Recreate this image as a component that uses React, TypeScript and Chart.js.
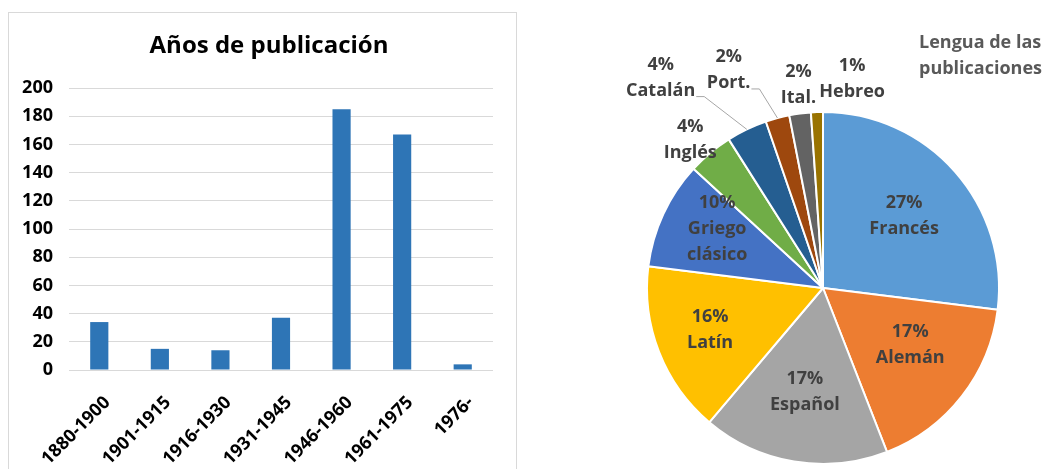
import React, { useEffect, useRef } from "react";
import { Chart, registerables } from "chart.js";

Chart.register(...registerables);

// ---------- Data ----------
const periods = ["1880-1900", "1901-1915", "1916-1930", "1931-1945", "1946-1960", "1961-1975", "1976-"];
const publications = [34, 15, 14, 37, 185, 167, 4];
const yMin = 0;
const yMax = 200;
const yStep = 20;
const barTitle = "Años de publicación";

const languages = ["Francés", "Alemán", "Español", "Latín", "Griego clásico", "Inglés", "Catalán", "Port.", "Ital.", "Hebreo"];
const languageCounts = [123, 78, 78, 72, 45, 19, 17, 10, 9, 5];
const languageColors = ["#5B9BD5", "#ED7D31", "#A5A5A5", "#FFC000", "#4472C4", "#70AD47", "#255E91", "#9E480E", "#636363", "#997300"];

// ---------- Label placement (polar: radius factor, angle shift in degrees) ----------
const labelPlacement = [
  { f: 0.615, shift: 0, leader: false },
  { f: 0.59, shift: -5, leader: false },
  { f: 0.6, shift: 0.4, leader: false },
  { f: 0.685, shift: 0.8, leader: false },
  { f: 0.69, shift: 4.5, leader: false },
  { f: 1.13, shift: -2, leader: false },
  { f: 1.51, shift: -12, leader: true },
  { f: 1.35, shift: -8.4, leader: true },
  { f: 1.16, shift: 0.6, leader: false },
  { f: 1.2, shift: 9.9, leader: false },
];

const FONT = "'Open Sans', 'Noto Sans', sans-serif";

// Title drawn centred on the chart card (Excel centres it on the whole card)
const cardTitlePlugin = {
  id: "cardTitle",
  afterDraw(chart: any) {
    const ctx = chart.ctx;
    ctx.save();
    ctx.font = `bold 24px ${FONT}`;
    ctx.fillStyle = "#000000";
    ctx.textAlign = "center";
    ctx.textBaseline = "middle";
    ctx.fillText(barTitle, chart.width / 2 + 7, 33);
    ctx.restore();
  },
};

const pieLabelsPlugin = {
  id: "pieLabels",
  afterDatasetsDraw(chart: any) {
    const ctx = chart.ctx;
    const meta = chart.getDatasetMeta(0);
    const data = chart.data.datasets[0].data as number[];
    const total = data.reduce((a, b) => a + b, 0);
    ctx.save();
    ctx.font = `bold 18px ${FONT}`;
    ctx.fillStyle = "#404040";
    ctx.textAlign = "center";
    ctx.textBaseline = "middle";
    const lineGap = 26;
    meta.data.forEach((arc: any, i: number) => {
      const p = labelPlacement[i];
      const mid = (arc.startAngle + arc.endAngle) / 2;
      const a = mid + (p.shift * Math.PI) / 180;
      const r = arc.outerRadius;
      const cx = arc.x + Math.cos(a) * r * p.f;
      const cy = arc.y + Math.sin(a) * r * p.f;
      const lines = [Math.round((data[i] / total) * 100) + "%", ...String(chart.data.labels[i]).split(" ")];
      const y0 = cy - ((lines.length - 1) * lineGap) / 2;
      lines.forEach((t: string, k: number) => {
        ctx.fillText(t, cx, y0 + k * lineGap);
      });
      if (p.leader) {
        const name = lines[lines.length - 1];
        const w = ctx.measureText(name).width;
        const sx = cx + w / 2 + 1;
        const sy = y0 + (lines.length - 1) * lineGap + 6;
        const ex = arc.x + Math.cos(mid) * r;
        const ey = arc.y + Math.sin(mid) * r;
        ctx.strokeStyle = "#A6A6A6";
        ctx.lineWidth = 1;
        ctx.beginPath();
        ctx.moveTo(sx, sy);
        ctx.lineTo(sx + 8, sy);
        ctx.lineTo(ex, ey);
        ctx.stroke();
      }
    });
    ctx.restore();
  },
};

export default function App() {
  const barRef = useRef<HTMLCanvasElement>(null);
  const pieRef = useRef<HTMLCanvasElement>(null);

  useEffect(() => {
    const bar = new Chart(barRef.current as HTMLCanvasElement, {
      type: "bar",
      data: {
        labels: periods,
        datasets: [
          {
            data: publications,
            backgroundColor: "#2E75B6",
            barPercentage: 0.3,
            categoryPercentage: 1,
          },
        ],
      },
      options: {
        animation: false,
        responsive: false,
        maintainAspectRatio: false,
        layout: { padding: { left: 0, right: 22, top: 75, bottom: 0 } },
        plugins: {
          legend: { display: false },
          tooltip: { enabled: false },
          title: { display: false },
        },
        scales: {
          x: {
            grid: { display: false },
            border: { display: false },
            ticks: {
              color: "#000000",
              font: { family: FONT, size: 18, weight: "bold" },
              maxRotation: 45,
              minRotation: 45,
              autoSkip: false,
              padding: 14,
              labelOffset: 8,
            },
            afterFit: (s: any) => {
              s.height = 99;
            },
          },
          y: {
            min: yMin,
            max: yMax,
            ticks: {
              stepSize: yStep,
              color: "#000000",
              font: { family: FONT, size: 18, weight: "bold" },
              padding: 16,
            },
            grid: { color: "#D9D9D9", drawTicks: false },
            border: { display: false },
            afterFit: (s: any) => {
              s.width = 60;
            },
          },
        },
      },
      plugins: [cardTitlePlugin],
    } as any);

    const pie = new Chart(pieRef.current as HTMLCanvasElement, {
      type: "pie",
      data: {
        labels: languages,
        datasets: [
          {
            data: languageCounts,
            backgroundColor: languageColors,
            borderColor: "#FFFFFF",
            borderWidth: 2,
          },
        ],
      },
      options: {
        animation: false,
        responsive: false,
        maintainAspectRatio: false,
        layout: { padding: { left: 106, right: 46, top: 111, bottom: 4 } },
        plugins: {
          legend: { display: false },
          tooltip: { enabled: false },
        },
      },
      plugins: [pieLabelsPlugin],
    } as any);

    return () => {
      bar.destroy();
      pie.destroy();
    };
  }, []);

  return (
    <div
      style={{
        position: "fixed",
        left: 0,
        top: 0,
        width: 1046,
        height: 469,
        overflow: "hidden",
        background: "#FFFFFF",
      }}
    >
      <div
        style={{
          position: "absolute",
          left: 8,
          top: 12,
          width: 507,
          height: 470,
          border: "1px solid #D9D9D9",
        }}
      />
      <canvas ref={barRef} width={506} height={456} style={{ position: "absolute", left: 9, top: 13 }} />
      <canvas ref={pieRef} width={506} height={469} style={{ position: "absolute", left: 540, top: 0 }} />
      <div
        style={{
          position: "absolute",
          left: 919,
          top: 28,
          fontFamily: FONT,
          fontWeight: "bold",
          fontSize: 18,
          lineHeight: "26px",
          color: "#595959",
          whiteSpace: "nowrap",
        }}
      >
        Lengua de las
        <br />
        publicaciones
      </div>
    </div>
  );
}
